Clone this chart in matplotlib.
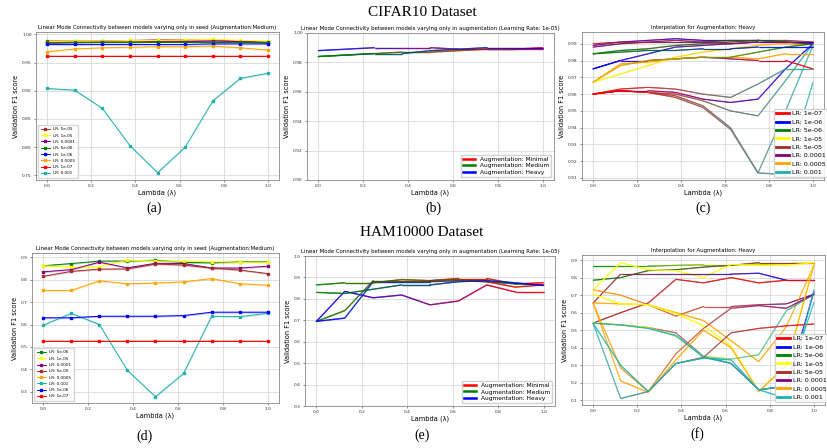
import numpy as np
import matplotlib
matplotlib.use("Agg")
import matplotlib.pyplot as plt
from matplotlib.collections import LineCollection
from matplotlib.colors import to_rgb
from matplotlib.lines import Line2D

# ---------------- data ----------------
lam = [0.0, 0.125, 0.25, 0.375, 0.5, 0.625, 0.75, 0.875, 1.0]

lr_colors = {"5e-05": "brown", "1e-05": "yellow", "0.0001": "purple", "5e-06": "green",
             "1e-06": "blue", "0.0005": "orange", "1e-07": "red", "0.001": "lightseagreen"}

# (a) CIFAR10 seed LMC
a_order = ["5e-05", "1e-05", "0.0001", "5e-06", "1e-06", "0.0005", "1e-07", "0.001"]
a_vals = {
    "5e-05":  [0.988, 0.988, 0.988, 0.989, 0.990, 0.990, 0.990, 0.988, 0.986],
    "1e-05":  [0.987, 0.988, 0.988, 0.989, 0.989, 0.990, 0.991, 0.989, 0.988],
    "0.0001": [0.984, 0.985, 0.986, 0.986, 0.987, 0.987, 0.988, 0.987, 0.985],
    "5e-06":  [0.987, 0.987, 0.987, 0.987, 0.987, 0.987, 0.987, 0.987, 0.987],
    "1e-06":  [0.982, 0.982, 0.982, 0.982, 0.982, 0.982, 0.983, 0.983, 0.983],
    "0.0005": [0.969, 0.974, 0.976, 0.977, 0.978, 0.978, 0.979, 0.976, 0.972],
    "1e-07":  [0.962, 0.962, 0.962, 0.962, 0.962, 0.962, 0.962, 0.962, 0.962],
    "0.001":  [0.904, 0.901, 0.869, 0.803, 0.755, 0.800, 0.882, 0.922, 0.931],
}

# (d) HAM10000 seed LMC
d_order = ["5e-06", "1e-05", "0.0001", "5e-05", "0.0005", "0.001", "1e-06", "1e-07"]
d_vals = {
    "5e-06":  [0.862, 0.872, 0.883, 0.883, 0.887, 0.877, 0.875, 0.880, 0.880],
    "1e-05":  [0.862, 0.855, 0.858, 0.887, 0.883, 0.882, 0.880, 0.878, 0.878],
    "0.0001": [0.835, 0.845, 0.878, 0.853, 0.873, 0.872, 0.852, 0.852, 0.860],
    "5e-05":  [0.815, 0.837, 0.847, 0.848, 0.870, 0.865, 0.852, 0.843, 0.827],
    "0.0005": [0.752, 0.752, 0.795, 0.782, 0.785, 0.790, 0.805, 0.782, 0.775],
    "0.001":  [0.597, 0.650, 0.600, 0.395, 0.278, 0.382, 0.637, 0.635, 0.650],
    "1e-06":  [0.630, 0.630, 0.637, 0.637, 0.637, 0.640, 0.655, 0.655, 0.655],
    "1e-07":  [0.528, 0.528, 0.528, 0.528, 0.528, 0.528, 0.528, 0.528, 0.528],
}

aug_labels = ["Augmentation: Minimal", "Augmentation: Medium", "Augmentation: Heavy"]
aug_colors = ["red", "green", "blue"]

# (b) CIFAR10 augmentation interpolation (start colour, end colour, values)
b_lines = [
    ("blue", "red",   [0.988, 0.989, 0.990, 0.990, 0.990, 0.989, 0.989, 0.989, 0.989]),
    ("green", "red",  [0.984, 0.985, 0.986, 0.987, 0.987, 0.988, 0.989, 0.989, 0.990]),
    ("green", "blue", [0.984, 0.985, 0.986, 0.986, 0.988, 0.989, 0.990, 0.990, 0.990]),
]

# (e) HAM10000 augmentation interpolation
e_lines = [
    ("blue", "red",   [0.695, 0.835, 0.805, 0.818, 0.772, 0.790, 0.865, 0.832, 0.832]),
    ("green", "red",  [0.695, 0.745, 0.885, 0.885, 0.885, 0.895, 0.895, 0.870, 0.875]),
    ("blue", "green", [0.695, 0.710, 0.880, 0.880, 0.880, 0.885, 0.880, 0.870, 0.865]),
    ("green", "red",  [0.865, 0.875, 0.875, 0.890, 0.885, 0.890, 0.880, 0.855, 0.865]),
    ("green", "blue", [0.830, 0.825, 0.845, 0.865, 0.865, 0.880, 0.885, 0.875, 0.862]),
]

# (c) CIFAR10 interpolation across learning rates (Heavy)
c_lines = [
    ("red", "lightseagreen", [0.960, 0.962, 0.961, 0.958, 0.952, 0.939, 0.913, 0.950, 0.989]),
    ("red", "lightseagreen", [0.960, 0.962, 0.961, 0.959, 0.953, 0.940, 0.913, 0.912, 0.967]),
    ("red", "lightseagreen", [0.960, 0.962, 0.961, 0.960, 0.956, 0.950, 0.947, 0.968, 0.990]),
    ("red", "blue",          [0.960, 0.962, 0.962, 0.961, 0.957, 0.955, 0.957, 0.975, 0.990]),
    ("red", "lightseagreen", [0.960, 0.963, 0.964, 0.963, 0.960, 0.958, 0.966, 0.975, 0.975]),
    ("blue", "red",          [0.975, 0.980, 0.980, 0.981, 0.982, 0.981, 0.980, 0.980, 0.975]),
    ("blue", "brown",        [0.975, 0.980, 0.984, 0.988, 0.989, 0.990, 0.991, 0.991, 0.991]),
    ("orange", "orange",     [0.967, 0.978, 0.979, 0.981, 0.982, 0.982, 0.981, 0.984, 0.984]),
    ("yellow", "orange",     [0.967, 0.972, 0.977, 0.982, 0.985, 0.987, 0.989, 0.990, 0.990]),
    ("orange", "green",      [0.967, 0.977, 0.980, 0.981, 0.982, 0.982, 0.985, 0.988, 0.990]),
    ("green", "blue",        [0.984, 0.985, 0.986, 0.986, 0.987, 0.987, 0.988, 0.988, 0.988]),
    ("green", "brown",       [0.984, 0.986, 0.987, 0.989, 0.990, 0.991, 0.992, 0.992, 0.991]),
    ("purple", "blue",       [0.989, 0.991, 0.992, 0.993, 0.992, 0.992, 0.992, 0.991, 0.991]),
    ("purple", "green",      [0.988, 0.990, 0.991, 0.991, 0.991, 0.992, 0.992, 0.991, 0.990]),
    ("brown", "purple",      [0.990, 0.991, 0.991, 0.992, 0.991, 0.990, 0.991, 0.991, 0.990]),
]

# (f) HAM10000 interpolation across learning rates (Heavy)
f_lines = [
    ("green", "yellow",      [0.865, 0.865, 0.865, 0.870, 0.873, 0.873, 0.875, 0.880, 0.885]),
    ("green", "brown",       [0.785, 0.800, 0.840, 0.845, 0.860, 0.870, 0.885, 0.885, 0.885]),
    ("yellow", "yellow",     [0.730, 0.885, 0.845, 0.840, 0.800, 0.875, 0.870, 0.870, 0.885]),
    ("brown", "blue",        [0.655, 0.820, 0.820, 0.820, 0.820, 0.820, 0.825, 0.785, 0.785]),
    ("brown", "red",         [0.540, 0.600, 0.655, 0.790, 0.770, 0.800, 0.770, 0.785, 0.785]),
    ("orange", "purple",     [0.730, 0.700, 0.645, 0.580, 0.635, 0.635, 0.645, 0.650, 0.705]),
    ("orange", "orange",     [0.655, 0.650, 0.645, 0.600, 0.555, 0.440, 0.320, 0.520, 0.870]),
    ("yellow", "yellow",     [0.705, 0.650, 0.645, 0.595, 0.525, 0.410, 0.150, 0.300, 0.885]),
    ("orange", "blue",       [0.540, 0.530, 0.515, 0.485, 0.350, 0.310, 0.160, 0.180, 0.720]),
    ("yellow", "lightseagreen", [0.540, 0.530, 0.515, 0.465, 0.350, 0.335, 0.360, 0.610, 0.705]),
    ("orange", "purple",     [0.655, 0.285, 0.150, 0.365, 0.510, 0.625, 0.640, 0.625, 0.705]),
    ("orange", "orange",     [0.655, 0.210, 0.145, 0.330, 0.500, 0.400, 0.150, 0.300, 0.870]),
    ("lightseagreen", "red", [0.540, 0.110, 0.150, 0.310, 0.345, 0.485, 0.510, 0.525, 0.535]),
    ("lightseagreen", "lightseagreen", [0.540, 0.530, 0.510, 0.470, 0.345, 0.310, 0.160, 0.110, 0.730]),
    ("lightseagreen", "lightseagreen", [0.540, 0.300, 0.150, 0.310, 0.340, 0.330, 0.160, 0.180, 0.660]),
]
c_legend = ["1e-07", "1e-06", "5e-06", "1e-05", "5e-05", "0.0001", "0.0005", "0.001"]

# ---------------- style ----------------
TITLE_FS = 3.9
LABEL_FS = 4.8
TICK_FS = 3.2


def style(ax, title, yticks, ylim):
    ax.set_title(title, fontsize=TITLE_FS, pad=2)
    ax.set_xlabel("Lambda (λ)", fontsize=LABEL_FS, labelpad=1)
    ax.set_ylabel("Validation F1 score", fontsize=LABEL_FS, labelpad=2)
    ax.set_xlim(-0.05, 1.05)
    ax.set_xticks([0.0, 0.2, 0.4, 0.6, 0.8, 1.0])
    ax.set_yticks(yticks)
    ax.set_ylim(*ylim)
    ax.tick_params(labelsize=TICK_FS, length=1.5, width=0.4, pad=1.5, colors="#333333")
    ax.grid(True, color="#d9d9d9", lw=0.6)
    ax.set_axisbelow(True)
    for s in ax.spines.values():
        s.set_color("#888888")
        s.set_linewidth(0.6)


def grad_line(ax, y, c0, c1, lw=0.9, alpha=0.75):
    xs = np.linspace(lam[0], lam[-1], 240)
    ys = np.interp(xs, lam, y)
    pts = np.column_stack([xs, ys]).reshape(-1, 1, 2)
    segs = np.concatenate([pts[:-1], pts[1:]], axis=1)
    t = np.linspace(0, 1, len(segs))[:, None]
    cols = np.array(to_rgb(c0))[None] * (1 - t) + np.array(to_rgb(c1))[None] * t
    ax.add_collection(LineCollection(segs, colors=cols, linewidths=lw, alpha=alpha,
                                     capstyle="round"))


fig = plt.figure(figsize=(8.28, 4.48), dpi=100)
W, H = 828.0, 448.0


def add_ax(l, r, t, b):
    return fig.add_axes([l / W, 1 - b / H, (r - l) / W, (b - t) / H])


axa = add_ax(36, 279, 32, 180)
axb = add_ax(307, 554, 33, 180)
axc = add_ax(582, 824, 32, 180)
axd = add_ax(32, 279, 253, 403)
axe = add_ax(305, 555, 256, 406)
axf = add_ax(582, 825, 255, 405)

# (a)
seed_title = "Linear Mode Connectivity between models varying only in seed (Augmentation:Medium)"
for k in a_order:
    v = np.array(a_vals[k])
    axa.fill_between(lam, v - 0.0015, v + 0.0015, color=lr_colors[k], alpha=0.25, lw=0)
    axa.plot(lam, v, color=lr_colors[k], marker="s", ms=1.8, lw=0.7, label=f"LR: {k}")
style(axa, seed_title, [0.75, 0.80, 0.85, 0.90, 0.95, 1.00], (0.742, 1.004))
axa.legend(loc="lower left", fontsize=3.0, handlelength=2.2, labelspacing=0.55,
           borderpad=0.6, framealpha=0.8, edgecolor="#cccccc")

# (d)
for k in d_order:
    v = np.array(d_vals[k])
    axd.fill_between(lam, v - 0.004, v + 0.004, color=lr_colors[k], alpha=0.25, lw=0)
    axd.plot(lam, v, color=lr_colors[k], marker="s", ms=1.8, lw=0.7, label=f"LR: {k}")
style(axd, seed_title, [0.3, 0.4, 0.5, 0.6, 0.7, 0.8, 0.9], (0.25, 0.919))
axd.legend(loc="lower left", fontsize=3.0, handlelength=2.2, labelspacing=0.55,
           borderpad=0.6, framealpha=0.8, edgecolor="#cccccc")

# (b)
aug_title = "Linear Mode Connectivity between models varying only in augmentation (Learning Rate: 1e-05)"
for c0, c1, v in b_lines:
    grad_line(axb, v, c0, c1, lw=1.0, alpha=0.7)
style(axb, aug_title, [0.90, 0.92, 0.94, 0.96, 0.98, 1.00], (0.90, 1.00))
axb.legend([Line2D([], [], color=c, lw=1.8) for c in aug_colors], aug_labels,
           loc="lower right", fontsize=4.2, handlelength=2.2, labelspacing=0.3,
           borderpad=0.3, framealpha=0.9, edgecolor="#cccccc")

# (e)
for c0, c1, v in e_lines:
    grad_line(axe, v, c0, c1, lw=1.0, alpha=0.75)
style(axe, aug_title, [0.3, 0.4, 0.5, 0.6, 0.7, 0.8, 0.9, 1.0], (0.3, 1.0))
axe.legend([Line2D([], [], color=c, lw=1.8) for c in aug_colors], aug_labels,
           loc="lower right", fontsize=4.2, handlelength=2.2, labelspacing=0.3,
           borderpad=0.3, framealpha=0.9, edgecolor="#cccccc")

# (c)
for c0, c1, v in c_lines:
    grad_line(axc, v, c0, c1, lw=0.9, alpha=0.75)
style(axc, "Interpolation for Augmentation: Heavy",
      [0.91, 0.92, 0.93, 0.94, 0.95, 0.96, 0.97, 0.98, 0.99], (0.9088, 0.997))
axc.legend([Line2D([], [], color=lr_colors[k], lw=2.0) for k in c_legend],
           [f"LR: {k}" for k in c_legend], loc="lower right", bbox_to_anchor=(1.03, 0.0),
           fontsize=4.6, handlelength=2.0, labelspacing=0.45, borderpad=0.3,
           handletextpad=0.5, framealpha=0.85, edgecolor="#cccccc")

# (f)
for c0, c1, v in f_lines:
    grad_line(axf, v, c0, c1, lw=0.9, alpha=0.75)
style(axf, "Interpolation for Augmentation: Heavy",
      [0.1, 0.2, 0.3, 0.4, 0.5, 0.6, 0.7, 0.8, 0.9], (0.073, 0.929))
axf.legend([Line2D([], [], color=lr_colors[k], lw=2.0) for k in c_legend],
           [f"LR: {k}" for k in c_legend], loc="lower right", bbox_to_anchor=(1.03, 0.0),
           fontsize=4.6, handlelength=2.0, labelspacing=0.45, borderpad=0.3,
           handletextpad=0.5, framealpha=0.85, edgecolor="#cccccc")

# headings and sub-captions
serif = ["Liberation Serif", "DejaVu Serif"]
fig.text(422 / W, 1 - 12 / H, "CIFAR10 Dataset", ha="center", va="center", fontsize=11, family=serif)
fig.text(422 / W, 1 - 232 / H, "HAM10000 Dataset", ha="center", va="center", fontsize=11, family=serif)
for lab, x, y in [("(a)", 154, 208), ("(b)", 433, 208), ("(c)", 703, 208),
                  ("(d)", 145, 436), ("(e)", 422, 435), ("(f)", 697, 434)]:
    fig.text(x / W, 1 - y / H, lab, ha="center", va="center", fontsize=10, family=serif)

fig.savefig("out.png", dpi=100)
